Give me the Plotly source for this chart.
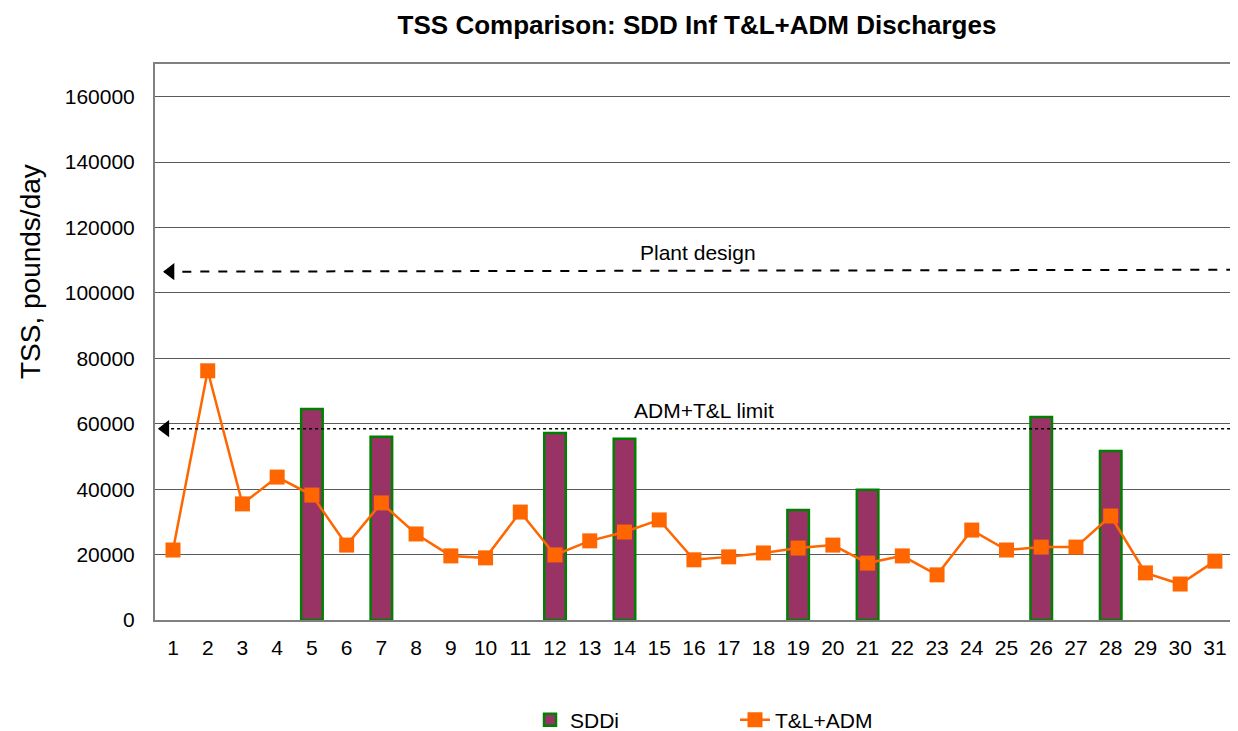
import plotly.graph_objects as go

days = list(range(1, 32))
tl_adm = [21400, 76200, 35500, 43700, 38200, 22900, 35800, 26300, 19600, 19000,
          33000, 19900, 24200, 26900, 30600, 18400, 19300, 20500, 22000, 22900,
          17400, 19600, 13800, 27500, 21400, 22300, 22300, 31800, 14400, 11000, 18000]
sddi_days = [5, 7, 12, 14, 19, 21, 26, 28]
sddi_vals = [64500, 56000, 57200, 55400, 33600, 39800, 62100, 51700]
plant_design = 106800
adm_tl_limit = 58500
y_ticks = list(range(0, 170001, 20000))

FONT = "Liberation Sans, Arial, sans-serif"
OFF = 8  # page body margin offset
PL, PT, PB = 155 - OFF, 64 - OFF, 620 - OFF
W, H = 1238, 731
PW = W - PL
PH = PB - PT

fig = go.Figure()

fig.add_trace(go.Bar(
    x=sddi_days, y=sddi_vals, name="SDDi", width=0.62,
    marker=dict(color="#993366", line=dict(color="#008000", width=2.5)),
))
fig.add_trace(go.Scatter(
    x=days, y=tl_adm, name="T&L+ADM", mode="lines+markers",
    line=dict(color="#FF6600", width=2.5),
    marker=dict(symbol="square", size=15, color="#FF6600"),
))

# reference lines
fig.add_shape(type="line", xref="x", yref="y", x0=0.75, x1=31.5,
              y0=plant_design - 300, y1=plant_design + 300,
              line=dict(color="black", width=2, dash="dash"))
fig.add_shape(type="line", xref="x", yref="y", x0=0.6, x1=31.5,
              y0=adm_tl_limit, y1=adm_tl_limit,
              line=dict(color="black", width=1.5, dash="dot"))
# arrow heads
fig.add_trace(go.Scatter(
    x=[0.93, 0.78], y=[plant_design - 300, adm_tl_limit], mode="markers",
    marker=dict(symbol="triangle-left", size=15, color="black"),
    showlegend=False, hoverinfo="skip", cliponaxis=False,
))

fig.add_annotation(text="Plant design", xref="paper", yref="y",
                   x=(698 - OFF - PL) / PW, y=plant_design + 5500, showarrow=False,
                   font=dict(family=FONT, size=21, color="black"))
fig.add_annotation(text="ADM+T&L limit", xref="paper", yref="y",
                   x=(704 - OFF - PL) / PW, y=adm_tl_limit + 5500, showarrow=False,
                   font=dict(family=FONT, size=21, color="black"))
fig.add_annotation(text="TSS, pounds/day", xref="paper", yref="paper",
                   x=(30 - OFF - PL) / PW, y=(PB - (272 - OFF)) / PH,
                   xanchor="center", yanchor="middle",
                   textangle=-90, showarrow=False,
                   font=dict(family=FONT, size=28, color="black"))

fig.update_layout(
    width=W, height=H,
    margin=dict(l=PL, r=0, t=PT, b=H - PB),
    paper_bgcolor="white", plot_bgcolor="white",
    title=dict(text="<b>TSS Comparison: SDD Inf T&L+ADM Discharges</b>",
               x=(697 - OFF) / W, xref="container", xanchor="center",
               y=1 - (25 - OFF) / H, yref="container", yanchor="middle",
               font=dict(family=FONT, size=26, color="black")),
    font=dict(family=FONT, size=21, color="black"),
    barmode="overlay",
    showlegend=True,
    legend=dict(orientation="h", xref="container", x=(735 - OFF) / W, xanchor="center",
                yref="container", y=1 - (720 - OFF) / H, yanchor="middle",
                font=dict(family=FONT, size=21, color="black"),
                entrywidth=160, entrywidthmode="pixels",
                traceorder="normal"),
    xaxis=dict(range=[0.482, 0.482 + PW / 34.73], tickmode="array", tickvals=days,
               ticktext=[str(d) for d in days], showgrid=False,
               showline=True, linecolor="#808080", linewidth=2, mirror=True,
               ticks="", ticklabelstandoff=8, zeroline=False,
               tickfont=dict(family=FONT, size=21, color="black")),
    yaxis=dict(range=[0, 170000], tickmode="array", tickvals=y_ticks,
               ticktext=[str(v) for v in y_ticks],
               showgrid=True, gridcolor="#5a5a5a", gridwidth=1,
               showline=True, linecolor="#808080", linewidth=2,
               ticks="", ticklabelstandoff=14, zeroline=False,
               tickfont=dict(family=FONT, size=21, color="black")),
)

fig.write_html("out.html")
